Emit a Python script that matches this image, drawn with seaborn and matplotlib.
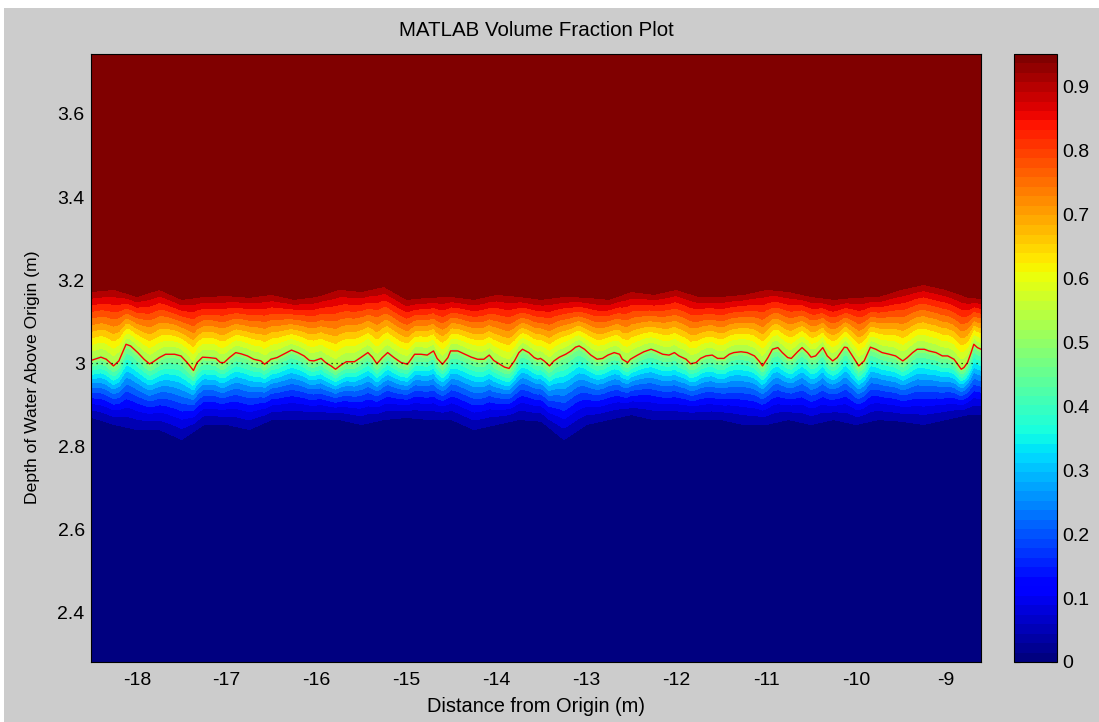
import numpy as np
import matplotlib
matplotlib.use("Agg")
import matplotlib.pyplot as plt
import seaborn as sns
from matplotlib.colors import Normalize
from matplotlib.cm import ScalarMappable
from matplotlib.patches import Rectangle
from matplotlib.ticker import FuncFormatter

# ---- interface height (0.5 volume fraction line) ----
iface_x = [
    -18.51, -18.47, -18.40, -18.34, -18.26, -18.20, -18.12, -18.07, -17.99, -17.92,
    -17.86, -17.83, -17.75, -17.68, -17.58, -17.51, -17.44, -17.37, -17.33, -17.27,
    -17.20, -17.12, -17.07, -17.03, -16.97, -16.90, -16.84, -16.77, -16.70, -16.62,
    -16.58, -16.53,
    -16.51, -16.44, -16.36, -16.28, -16.21, -16.14, -16.08, -16.03, -15.95, -15.90,
    -15.84, -15.79, -15.73, -15.67, -15.58, -15.51, -15.43, -15.38, -15.33, -15.27,
    -15.21, -15.14, -15.06, -14.99, -14.91, -14.84, -14.77, -14.70, -14.66, -14.60,
    -14.54, -14.51,
    -14.43, -14.36, -14.28, -14.21, -14.14, -14.08, -14.03, -13.97, -13.91, -13.86,
    -13.80, -13.75, -13.71, -13.64, -13.58, -13.54, -13.51, -13.47, -13.41, -13.36,
    -13.30, -13.23, -13.17, -13.12, -13.08, -13.02, -12.95, -12.88, -12.82, -12.76,
    -12.69, -12.63, -12.60, -12.54,
    -12.51, -12.43, -12.36, -12.28, -12.23, -12.15, -12.08, -12.02, -11.97, -11.89,
    -11.84, -11.78, -11.73, -11.67, -11.60, -11.54, -11.47, -11.41, -11.36, -11.28,
    -11.21, -11.13, -11.08, -11.04, -10.98, -10.93, -10.87, -10.82, -10.76, -10.72,
    -10.65, -10.60, -10.54, -10.50,
    -10.45, -10.37, -10.32, -10.26, -10.21, -10.13, -10.10, -10.04, -9.97, -9.91,
    -9.84, -9.78, -9.71, -9.63, -9.56, -9.48, -9.43, -9.37, -9.32, -9.24,
    -9.19, -9.11, -9.04, -8.98, -8.91, -8.83, -8.80, -8.76, -8.72, -8.69,
    -8.65, -8.61,
]
iface_y = [
    3.007, 3.010, 3.015, 3.010, 2.994, 3.006, 3.046, 3.042, 3.026, 3.010,
    2.999, 3.002, 3.014, 3.022, 3.022, 3.018, 3.002, 2.983, 3.002, 3.015,
    3.014, 3.012, 3.002, 3.002, 3.014, 3.026, 3.023, 3.018, 3.010, 3.006,
    2.998, 3.006,
    3.010, 3.014, 3.023, 3.032, 3.026, 3.018, 3.007, 3.006, 3.012, 3.002,
    2.994, 2.986, 2.996, 3.004, 3.004, 3.014, 3.026, 3.015, 2.999, 3.014,
    3.026, 3.014, 3.002, 2.998, 3.022, 3.022, 3.020, 3.030, 3.012, 2.998,
    3.014, 3.030,
    3.030, 3.023, 3.015, 3.010, 3.010, 3.020, 3.007, 2.999, 2.991, 2.988,
    3.006, 3.026, 3.034, 3.026, 3.014, 3.010, 3.012, 3.006, 2.994, 3.006,
    3.015, 3.022, 3.030, 3.039, 3.042, 3.034, 3.020, 3.010, 3.012, 3.020,
    3.026, 3.022, 3.010, 3.002,
    3.010, 3.020, 3.028, 3.034, 3.030, 3.022, 3.020, 3.026, 3.018, 3.010,
    2.999, 3.002, 3.012, 3.018, 3.020, 3.012, 3.012, 3.022, 3.026, 3.028,
    3.026, 3.018, 3.006, 2.994, 3.014, 3.034, 3.038, 3.026, 3.014, 3.012,
    3.028, 3.038, 3.026, 3.015,
    3.018, 3.038, 3.018, 3.006, 3.014, 3.039, 3.038, 3.018, 2.994, 3.006,
    3.039, 3.034, 3.026, 3.022, 3.018, 3.006, 3.014, 3.026, 3.034, 3.034,
    3.030, 3.026, 3.018, 3.018, 3.010, 2.986, 2.990, 3.002, 3.026, 3.046,
    3.038, 3.034,
]

# ---- extent of the mixing zone: top of the saturated layer, bottom of the empty layer ----
edge_x = [
    -18.50, -18.25, -18.00, -17.75, -17.50, -17.25, -17.00, -16.75, -16.50, -16.25,
    -16.00, -15.75, -15.50, -15.25, -15.00, -14.75, -14.50, -14.25, -14.00, -13.75,
    -13.50, -13.25, -13.00, -12.75, -12.50, -12.25, -12.00, -11.75, -11.50, -11.25,
    -11.00, -10.75, -10.50, -10.25, -10.00, -9.75, -9.50, -9.25, -9.00, -8.75, -8.50,
]
upper_edge = [
    3.173, 3.178, 3.161, 3.178, 3.154, 3.161, 3.163, 3.159, 3.166, 3.154,
    3.161, 3.178, 3.173, 3.185, 3.154, 3.159, 3.161, 3.154, 3.166, 3.161,
    3.154, 3.161, 3.159, 3.154, 3.173, 3.166, 3.178, 3.161, 3.161, 3.166,
    3.178, 3.173, 3.161, 3.154, 3.159, 3.161, 3.178, 3.190, 3.178, 3.159, 3.154,
]
lower_edge = [
    2.870, 2.853, 2.841, 2.841, 2.817, 2.853, 2.853, 2.841, 2.865, 2.865,
    2.865, 2.865, 2.853, 2.865, 2.870, 2.865, 2.865, 2.841, 2.853, 2.865,
    2.861, 2.817, 2.853, 2.865, 2.877, 2.865, 2.865, 2.865, 2.865, 2.853,
    2.853, 2.865, 2.853, 2.865, 2.853, 2.865, 2.861, 2.853, 2.865, 2.877, 2.877,
]

vf_max = 0.951
x_range = (-18.51, -8.61)
y_range = (2.282, 3.744)
x_ticks = [-18, -17, -16, -15, -14, -13, -12, -11, -10, -9]
y_ticks = [2.4, 2.6, 2.8, 3.0, 3.2, 3.4, 3.6]
cb_ticks = [0, 0.1, 0.2, 0.3, 0.4, 0.5, 0.6, 0.7, 0.8, 0.9]
n_bands = 24

# ---- volume fraction field on a grid ----
levels = np.linspace(0, vf_max, n_bands + 1)
gx = np.linspace(x_range[0], x_range[1], 700)
gy = np.linspace(y_range[0], y_range[1], 600)
h = np.interp(gx, iface_x, iface_y)
top = np.interp(gx, edge_x, upper_edge)
bot = np.interp(gx, edge_x, lower_edge)
X, Y = np.meshgrid(gx, gy)
d = Y - h
# near-linear rise above the interface, convex tail below it
upper = 0.5 + (levels[-2] - 0.5) * d / (top - h)
p = 1.5
reach = 1.0 - (levels[1] / 0.5) ** (1.0 / p)
lower = 0.5 * np.clip(1.0 + reach * d / (h - bot), 0, None) ** p
V = np.clip(np.where(d >= 0, upper, lower), 0, vf_max)

# ---- styling ----
sns.set_style("ticks")
plt.rcParams["font.family"] = ["Liberation Sans", "DejaVu Sans"]
plt.rcParams["axes.unicode_minus"] = False
for key in ("text.color", "axes.labelcolor", "xtick.color", "ytick.color",
            "xtick.labelcolor", "ytick.labelcolor"):
    plt.rcParams[key] = "black"

jet = plt.get_cmap("jet")
band_colors = [jet(i / (n_bands - 1)) for i in range(n_bands)]

fig = plt.figure(figsize=(10.99, 7.22), dpi=100)
fig.patch.set_facecolor("white")
fig.add_artist(Rectangle((4 / 1099, 0), 1 - 4 / 1099, 1 - 8 / 722,
                         transform=fig.transFigure, facecolor="#cccccc",
                         edgecolor="none", zorder=-10))

ax = fig.add_axes([91 / 1099, 1 - 662 / 722, 890 / 1099, 608 / 722])
cax = fig.add_axes([1014 / 1099, 1 - 662 / 722, 43 / 1099, 608 / 722])

ax.contourf(X, Y, V, levels=levels, colors=band_colors, antialiased=False)
sns.lineplot(x=iface_x, y=iface_y, ax=ax, color="red", linewidth=1.0,
             estimator=None, sort=False)
ax.axhline(3.0, color="black", linestyle=(0, (1, 3)), linewidth=0.9)

ax.set_xlim(*x_range)
ax.set_ylim(*y_range)
ax.set_xticks(x_ticks)
ax.set_yticks(y_ticks)
fmt = FuncFormatter(lambda v, p: f"{v:g}")
ax.xaxis.set_major_formatter(fmt)
ax.yaxis.set_major_formatter(fmt)
ax.tick_params(direction="in", length=6.5, width=0.8, top=True, right=True,
               labelsize=14, colors="black")
ax.tick_params(axis="x", pad=7)
ax.tick_params(axis="y", pad=4.5)
for s in ax.spines.values():
    s.set_visible(True)
    s.set_linewidth(0.8)
    s.set_color("black")

ax.set_xlabel("Distance from Origin (m)", fontsize=14.4, color="black")
ax.set_ylabel("Depth of Water Above Origin (m)", fontsize=12.6, color="black")
ax.xaxis.set_label_coords(0.5, -(706 - 662) / 608)
ax.xaxis.label.set_va("center")
ax.yaxis.set_label_coords((33 - 91) / 890, (662 - 377) / 608)
ax.yaxis.label.set_va("center")
ax.yaxis.label.set_ha("center")
fig.text(536 / 1099, 1 - 31 / 722, "MATLAB Volume Fraction Plot",
         ha="center", va="center", fontsize=14.8, color="black")

# ---- colorbar ----
sm = ScalarMappable(norm=Normalize(0, vf_max), cmap=plt.get_cmap("jet", 64))
cb = fig.colorbar(sm, cax=cax)
cb.set_ticks(cb_ticks)
cb.ax.yaxis.set_major_formatter(fmt)
cb.ax.tick_params(direction="in", length=4, width=0.8, left=True, right=True,
                  labelsize=14, pad=3.5, colors="black")
cb.outline.set_linewidth(0.8)
cb.outline.set_edgecolor("black")

fig.savefig("out.png", dpi=100, facecolor=fig.get_facecolor())
